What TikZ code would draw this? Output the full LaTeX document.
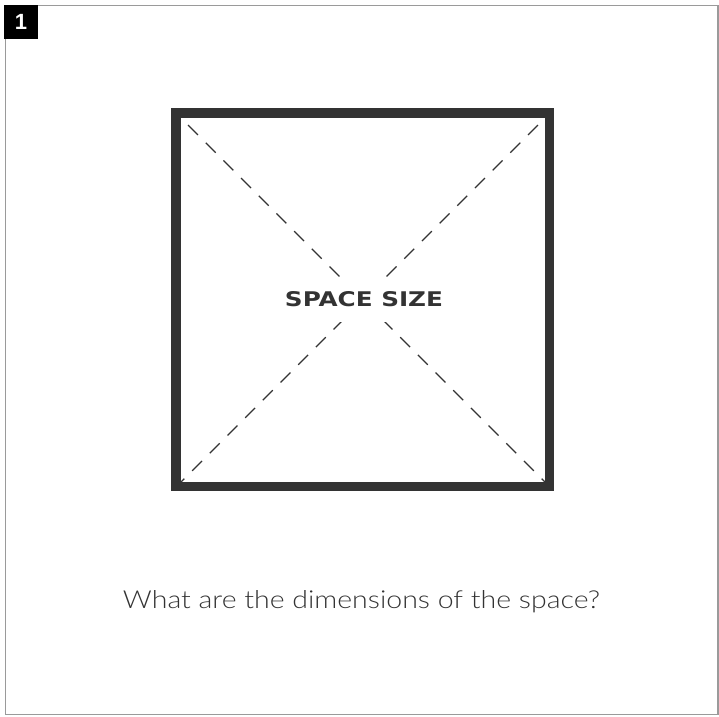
\documentclass[tikz,border=0pt]{standalone}
\usepackage{fontspec}
\setmainfont{Liberation Sans}
\newfontfamily\lightfont{Lato Light}
\newfontfamily\heavyfont{DejaVu Sans}
\definecolor{sqcol}{HTML}{333333}
\definecolor{framecol}{HTML}{9A9A9A}
\begin{document}
\begin{tikzpicture}[x=1pt,y=-1pt,
  framestyle/.style={draw=framecol,line width=1.3pt},
  squarestyle/.style={draw=sqcol,line width=9.5pt},
  diagstyle/.style={draw=sqcol,line width=1.2pt,dash pattern=on 14pt off 11pt,dash phase=15pt},
  labelbox/.style={fill=black,draw=none,inner sep=0pt,minimum width=34pt,minimum height=34pt,text=white,font=\bfseries\fontsize{22}{22}\selectfont},
  titletext/.style={inner sep=0pt,anchor=base,text=sqcol},
]
\useasboundingbox (0,0) rectangle (719,716);
% frame
\draw[framestyle] (5.5,5.5) rectangle (718,714.5);
% label box
\node[labelbox] (lbl) at (21,22) {1};
% square and diagonals
\coordinate (tl) at (181,118);
\coordinate (tr) at (545,118);
\coordinate (bl) at (181,482);
\coordinate (br) at (545,482);
\draw[squarestyle] (176,113) rectangle (549.5,486.5);
\draw[diagstyle] (tl) -- (br);
\draw[diagstyle] (tr) -- (bl);
\fill[white] (282,278) rectangle (446,322);
\node[titletext] (size) at (364,306.5) {\resizebox{158pt}{15pt}{\heavyfont\bfseries SPACE SIZE}};
% question
\node[titletext] (q) at (361.5,608) {\resizebox{477pt}{18pt}{\lightfont What are the dimensions of the space?}};
\end{tikzpicture}
\end{document}
